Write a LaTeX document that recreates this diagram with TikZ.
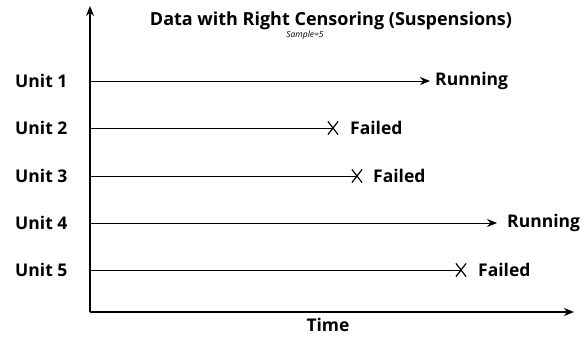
\documentclass[tikz,border=0pt]{standalone}
\usepackage{fontspec}
\setmainfont{Open Sans}
\usetikzlibrary{arrows.meta,shapes.misc}
\begin{document}
\begin{tikzpicture}[x=1pt,y=-1pt,
  axis/.style={line width=1.3pt,-{Stealth[length=10pt,width=8pt]}},
  life/.style={line width=1pt},
  run/.style={line width=1pt,-{Stealth[length=10pt,width=8pt]}},
  fail/.style={cross out,draw,line width=1.2pt,minimum width=9pt,minimum height=12pt,inner sep=0pt},
  unitlbl/.style={font=\fontsize{17.5}{20}\selectfont\bfseries,anchor=west,inner sep=0pt},
  lbl/.style={font=\fontsize{17.5}{20}\selectfont\bfseries,anchor=west,inner sep=0pt}]
\useasboundingbox (0,0) rectangle (585,338);
\coordinate (O) at (90,312);
\coordinate (ytop) at (90,6);
\coordinate (xend) at (574,312);
\draw[axis] (O) -- (xend);
\draw[axis] (O) -- (ytop);
\node[font=\fontsize{18}{20}\selectfont\bfseries] (title) at (331,21) {Data with Right Censoring (Suspensions)};
\node[font=\fontsize{8.5}{10}\selectfont\itshape] (sample) at (305,35) {Sample=5};
\node[font=\fontsize{17.5}{20}\selectfont\bfseries] (time) at (328,325) {Time};
% units
\foreach \i/\y in {1/81,2/128,3/176,4/223,5/270}{
  \node[unitlbl] (u\i) at (15,\y) {Unit \i};
  \coordinate (s\i) at (90,\y);
}
% unit 1 running
\coordinate (e1) at (430,81);
\draw[run] (s1) -- (e1);
\node[lbl] (l1) at (435,81) {Running};
% unit 2 failed
\node[fail] (x2) at (333,128) {};
\draw[life] (s2) -- (x2.center);
\node[lbl] (l2) at (350,128) {Failed};
% unit 3 failed
\node[fail] (x3) at (357,176) {};
\draw[life] (s3) -- (x3.center);
\node[lbl] (l3) at (373,176) {Failed};
% unit 4 running
\coordinate (e4) at (497,223);
\draw[run] (s4) -- (e4);
\node[lbl] (l4) at (507,223) {Running};
% unit 5 failed
\node[fail] (x5) at (461,270) {};
\draw[life] (s5) -- (x5.center);
\node[lbl] (l5) at (478,270) {Failed};
\end{tikzpicture}
\end{document}
